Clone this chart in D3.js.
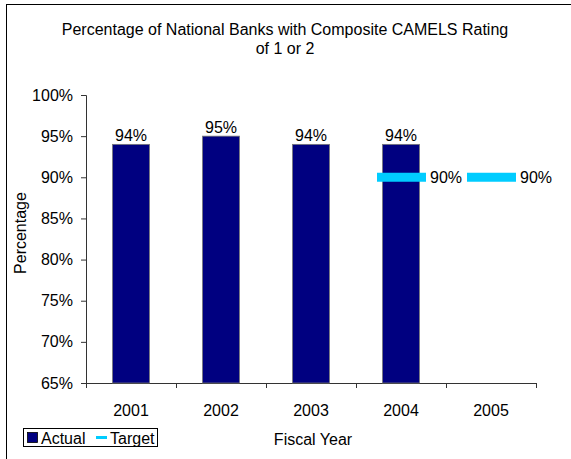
<!DOCTYPE html>
<html>
<head>
<meta charset="utf-8">
<script src="https://cdn.jsdelivr.net/npm/d3@7"></script>
<style>
  html, body { margin: 0; padding: 0; background: #fff; }
  svg { display: block; }
  text { font-family: "Liberation Sans", Arial, sans-serif; fill: #000; }
</style>
</head>
<body>
<svg id="chart" width="571" height="459"></svg>
<script>
// Chart data
const years = ["2001", "2002", "2003", "2004", "2005"];
const actual = [94, 95, 94, 94, null];
const target = [null, null, null, 90, 90];
const yTicks = [65, 70, 75, 80, 85, 90, 95, 100];
const titleLines = ["Percentage of National Banks with Composite CAMELS Rating", "of 1 or 2"];

const svg = d3.select("#chart");
const W = 571, H = 459;
const plot = { left: 86, right: 536, top: 95, bottom: 383 };
const FS = "16px";

// Outer chart frame (extends past the right/bottom edge of the view)
svg.append("rect")
  .attr("x", 6.5).attr("y", 4.5)
  .attr("width", W + 10).attr("height", H + 10)
  .attr("fill", "none").attr("stroke", "#000").attr("stroke-width", 1);

// Title
svg.append("g").selectAll("text").data(titleLines).join("text")
  .attr("x", 285).attr("y", (d, i) => 35 + i * 19)
  .attr("text-anchor", "middle")
  .style("font-size", FS)
  .text(d => d);

// Scales
const x = d3.scaleBand().domain(years)
  .range([plot.left, plot.right])
  .paddingInner(0.59).paddingOuter(0.295);
const xEdge = d3.scaleLinear().domain([0, years.length]).range([plot.left, plot.right]);
const y = d3.scaleLinear().domain([65, 100]).range([plot.bottom, plot.top]);

// Y axis
const yAxis = svg.append("g")
  .attr("transform", `translate(${plot.left},0)`)
  .call(d3.axisLeft(y).tickValues(yTicks).tickSize(5).tickPadding(8)
    .tickFormat(d => d + "%"));
yAxis.selectAll("text").style("font-size", FS)
  .style("font-family", "'Liberation Sans', Arial, sans-serif");
yAxis.selectAll("path, line").attr("stroke", "#333");

// X axis: ticks at category boundaries, labels at category centres
const xAxis = svg.append("g")
  .attr("transform", `translate(0,${plot.bottom})`)
  .call(d3.axisBottom(xEdge).ticks(years.length).tickSize(5).tickFormat(""));
xAxis.selectAll("path, line").attr("stroke", "#333");
xAxis.select("path").attr("d", `M${plot.left},0.5H${plot.right}`);

svg.append("g").selectAll("text").data(years).join("text")
  .attr("x", d => x(d) + x.bandwidth() / 2)
  .attr("y", 416)
  .attr("text-anchor", "middle")
  .style("font-size", FS)
  .text(d => d);

// Bars
const barData = years.map((yr, i) => ({ yr, v: actual[i] })).filter(d => d.v != null);
svg.append("g").selectAll("rect").data(barData).join("rect")
  .attr("x", d => x(d.yr))
  .attr("y", d => y(d.v))
  .attr("width", x.bandwidth())
  .attr("height", d => y(65) - y(d.v))
  .attr("fill", "#000080")
  .attr("stroke", "#777")
  .attr("stroke-width", 0.8);

svg.append("g").selectAll("text").data(barData).join("text")
  .attr("x", d => x(d.yr) + x.bandwidth() / 2)
  .attr("y", d => y(d.v) - 3)
  .attr("text-anchor", "middle")
  .style("font-size", FS)
  .text(d => d.v + "%");

// Target markers
const tgtData = years.map((yr, i) => ({ yr, v: target[i] })).filter(d => d.v != null);
const tg = svg.append("g");
tg.selectAll("line").data(tgtData).join("line")
  .attr("x1", d => x(d.yr) + x.bandwidth() / 2 - 24)
  .attr("x2", d => x(d.yr) + x.bandwidth() / 2 + 25)
  .attr("y1", d => y(d.v)).attr("y2", d => y(d.v))
  .attr("stroke", "#00CCFF").attr("stroke-width", 9);
tg.selectAll("text").data(tgtData).join("text")
  .attr("x", d => x(d.yr) + x.bandwidth() / 2 + 29)
  .attr("y", d => y(d.v) + 6)
  .style("font-size", FS)
  .text(d => d.v + "%");

// Axis titles
svg.append("text")
  .attr("transform", "translate(26,233) rotate(-90)")
  .attr("text-anchor", "middle")
  .style("font-size", FS)
  .text("Percentage");

svg.append("text")
  .attr("x", 313).attr("y", 445)
  .attr("text-anchor", "middle")
  .style("font-size", FS)
  .text("Fiscal Year");

// Legend
const lg = svg.append("g");
lg.append("rect").attr("x", 23.5).attr("y", 428.5).attr("width", 134).attr("height", 18)
  .attr("fill", "#fff").attr("stroke", "#000");
lg.append("rect").attr("x", 27.5).attr("y", 432.5).attr("width", 10).attr("height", 10)
  .attr("fill", "#000080").attr("stroke", "#000").attr("stroke-width", 0.8);
lg.append("text").attr("x", 41).attr("y", 443.5).style("font-size", FS).text("Actual");
lg.append("line").attr("x1", 96).attr("x2", 107).attr("y1", 437.5).attr("y2", 437.5)
  .attr("stroke", "#00CCFF").attr("stroke-width", 3);
lg.append("text").attr("x", 110).attr("y", 443.5).style("font-size", FS).text("Target");
</script>
</body>
</html>
